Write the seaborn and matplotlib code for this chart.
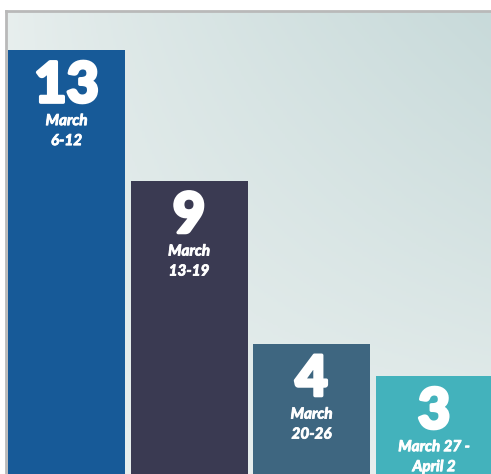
import numpy as np
import pandas as pd
import seaborn as sns
import matplotlib.pyplot as plt
import matplotlib.patheffects as pe
from matplotlib.colors import LinearSegmentedColormap

# Data
counts = [13, 9, 4, 3]
weeks = ["March 6-12", "March 13-19", "March 20-26", "March 27 - April 2"]
date_line1 = ["March", "March", "March", "March 27 -"]
date_line2 = ["6-12", "13-19", "20-26", "April 2"]
bar_colors = ["#175a98", "#3a3a52", "#3e6680", "#43b2bc"]

df = pd.DataFrame({"week": weeks, "count": counts})

sns.set_style("white")
plt.rcParams["font.family"] = ["Lato", "DejaVu Sans"]

fig = plt.figure(figsize=(4.91, 4.74), dpi=100)
ax = fig.add_axes([6 / 491, 0, 485 / 491, 463 / 474])

# soft background gradient, darker toward top right
xx, yy = np.meshgrid(np.linspace(0, 1, 200), np.linspace(0, 1, 200))
grad = (xx * yy) ** 0.8
bg_cmap = LinearSegmentedColormap.from_list("bg", ["#e8efee", "#c8dada"])
ax.imshow(grad, cmap=bg_cmap, origin="lower", extent=[0, 1, 0, 1],
          transform=ax.transAxes, aspect="auto", zorder=0)

sns.barplot(data=df, x="week", y="count", hue="week", palette=bar_colors,
            saturation=1, width=0.955, linewidth=0, legend=False, ax=ax, zorder=2)

ax.set_xlim(-0.494, 3.465)
ax.set_ylim(0, 14.2)

heavy = [pe.withStroke(linewidth=2.5, foreground="white")]
semi = [pe.withStroke(linewidth=0.6, foreground="white")]
for i, (val, l1, l2) in enumerate(zip(counts, date_line1, date_line2)):
    ax.annotate(str(val), (i, val), xytext=(0, -36), textcoords="offset pixels",
                ha="center", va="center", color="white", fontsize=40,
                fontweight="black", path_effects=heavy, zorder=3)
    ax.annotate(l1, (i, val), xytext=(0, -71), textcoords="offset pixels",
                ha="center", va="center", color="white", fontsize=11,
                fontweight="bold", fontstyle="italic", path_effects=semi, zorder=3)
    ax.annotate(l2, (i, val), xytext=(0, -91), textcoords="offset pixels",
                ha="center", va="center", color="white", fontsize=11,
                fontweight="bold", fontstyle="italic", path_effects=semi, zorder=3)

ax.set_xlabel("")
ax.set_ylabel("")
ax.set_xticks([])
ax.set_yticks([])
for side in ["bottom", "right"]:
    ax.spines[side].set_visible(False)
for side in ["top", "left"]:
    ax.spines[side].set_color("#b9b9b9")
    ax.spines[side].set_linewidth(2)

fig.savefig("out.png", dpi=100, facecolor="white")
